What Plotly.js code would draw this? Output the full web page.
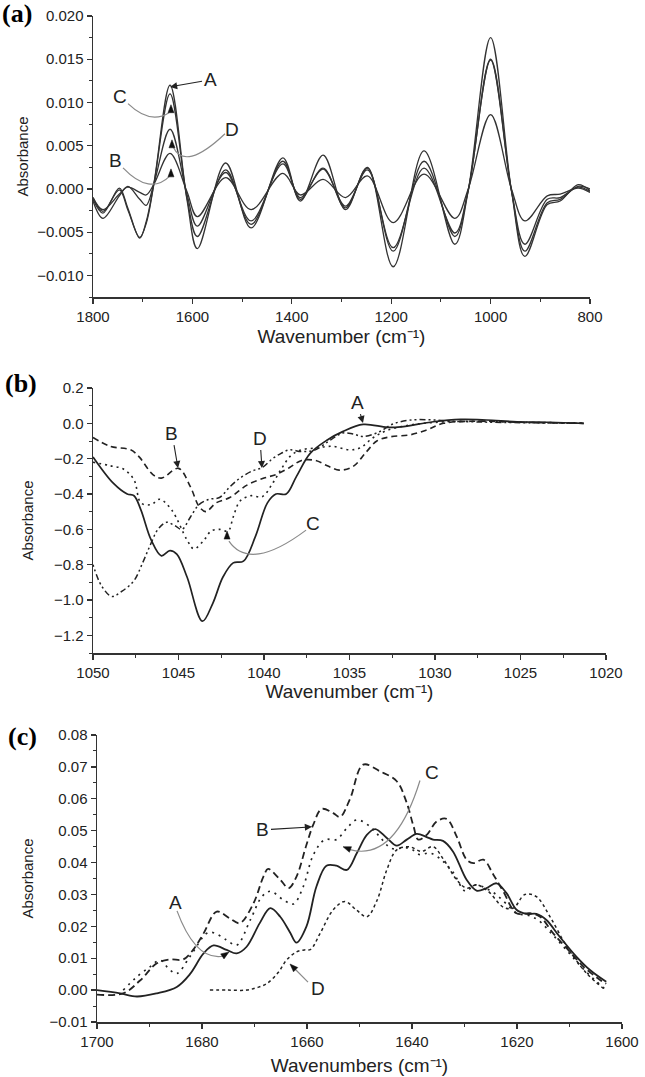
<!DOCTYPE html>
<html><head><meta charset="utf-8">
<script src="https://cdn.plot.ly/plotly-3.0.1.min.js"></script>
<style>html,body{margin:0;padding:0;background:#fff}#chart{width:645px;height:1077px}</style>
</head><body><div id="chart"></div>
<script>
// ---------- Panel (a): second-derivative spectra ----------
const wnA = [1800,1780,1747,1730,1706,1693,1677,1645,1611,1590,1533,1482,1418,1383,1337,1292,1248,1196,1134,1072,1045,1000,958,931,886,860,824,800];
const a_A = [-0.0012,-0.0028,0.0001,-0.0022,-0.0057,-0.0038,0.0008,0.0120,-0.0012,-0.0069,0.0030,-0.0045,0.0036,-0.0014,0.0039,-0.0024,0.0025,-0.0090,0.0044,-0.0064,-0.0002,0.0175,-0.0002,-0.0078,-0.0018,-0.0014,0.0005,-0.0002];
const a_C = [-0.0010,-0.0026,-0.0001,-0.0024,-0.0056,-0.0040,0.0007,0.0110,-0.0010,-0.0055,0.0022,-0.0041,0.0032,-0.0012,0.0024,-0.0022,0.0024,-0.0072,0.0032,-0.0055,-0.0002,0.0150,-0.0002,-0.0072,-0.0016,-0.0012,0.0003,0.0000];
const a_D = [-0.0014,-0.0034,-0.0008,0.0003,-0.0012,-0.0019,0.0007,0.0069,-0.0006,-0.0043,0.0019,-0.0037,0.0029,-0.0010,0.0023,-0.0020,0.0022,-0.0068,0.0024,-0.0051,-0.0001,0.0149,-0.0002,-0.0064,-0.0012,-0.0010,0.0002,-0.0003];
const a_B = [-0.0010,-0.0024,-0.0006,0.0002,-0.0004,-0.0007,0.0006,0.0041,-0.0003,-0.0032,0.0013,-0.0024,0.0018,-0.0007,0.0011,-0.0010,0.0015,-0.0039,0.0017,-0.0034,0.0000,0.0086,0.0000,-0.0037,-0.0008,-0.0006,0.0001,-0.0004];

// ---------- Panel (b): 1050-1020 region ----------
const b_A_x = [1050,1048.8,1048.0,1047.6,1047.2,1046.6,1046.0,1045.5,1045.1,1044.5,1043.6,1043.0,1042.4,1041.8,1041.2,1040.5,1039.8,1039.3,1038.7,1038.1,1037.3,1036.3,1035.4,1034.2,1032.8,1032.0,1030.1,1028.5,1027.0,1025.2,1023.3,1021.3];
const b_A_y = [-0.19,-0.34,-0.40,-0.41,-0.49,-0.66,-0.75,-0.72,-0.74,-0.87,-1.12,-1.02,-0.87,-0.79,-0.78,-0.64,-0.45,-0.40,-0.40,-0.30,-0.17,-0.094,-0.047,-0.006,-0.023,-0.02,0.009,0.022,0.019,0.009,0.006,0.0];
const b_B_x = [1050,1049.0,1047.8,1047.3,1046.5,1046.0,1045.0,1044.3,1043.8,1043.4,1042.8,1042.0,1041.0,1040.0,1039.3,1038.5,1037.8,1037.0,1036.3,1035.6,1034.8,1034.0,1033.4,1032.6,1031.5,1030.5,1029.5,1027.5,1025,1021.3];
const b_B_y = [-0.08,-0.13,-0.15,-0.19,-0.29,-0.31,-0.255,-0.36,-0.47,-0.50,-0.45,-0.42,-0.35,-0.31,-0.29,-0.25,-0.21,-0.21,-0.24,-0.265,-0.245,-0.16,-0.10,-0.076,-0.066,-0.038,0.0,0.012,0.006,0.0];
const b_C_x = [1050,1049.0,1048.2,1047.6,1047.2,1046.6,1046.1,1045.4,1044.5,1044.1,1043.5,1043.1,1042.6,1042.1,1041.8,1041.4,1040.8,1040.1,1039.5,1039.0,1038.4,1037.8,1037.0,1036.0,1035.0,1034.4,1033.6,1032.8,1031.5,1030.0,1028,1025,1021.3];
const b_C_y = [-0.22,-0.24,-0.26,-0.32,-0.45,-0.46,-0.43,-0.49,-0.66,-0.71,-0.66,-0.61,-0.60,-0.61,-0.53,-0.44,-0.41,-0.415,-0.34,-0.26,-0.18,-0.15,-0.14,-0.13,-0.15,-0.14,-0.08,-0.04,-0.01,0.005,0.012,0.006,0.002];
const b_D_x = [1050,1049.5,1048.9,1048.3,1047.6,1047.1,1046.7,1046.2,1045.7,1045.2,1044.8,1044.3,1043.8,1043.2,1042.6,1042.0,1041.4,1040.7,1040.1,1039.5,1039.0,1038.5,1037.8,1037.0,1036.2,1035.4,1034.8,1034.2,1033.3,1032.5,1031.5,1030.3,1029,1026,1021.3];
const b_D_y = [-0.80,-0.92,-0.98,-0.95,-0.89,-0.79,-0.70,-0.60,-0.56,-0.58,-0.60,-0.53,-0.46,-0.43,-0.42,-0.36,-0.31,-0.27,-0.25,-0.20,-0.17,-0.15,-0.16,-0.15,-0.10,-0.055,-0.06,-0.075,-0.05,-0.005,0.018,0.02,0.012,0.005,0.0];

// ---------- Panel (c): amide I region ----------
const c_A_x = [1700,1695.6,1692.4,1688.6,1684.8,1682.3,1679.7,1677.8,1675.3,1673.4,1671.5,1669.0,1667.0,1665.1,1663.2,1662.0,1660.1,1658.2,1656.3,1654.4,1652.4,1650.5,1648.6,1647.0,1644.8,1642.9,1641.0,1639.1,1637.2,1636.0,1634.1,1632.2,1629.6,1627.7,1625.8,1623.9,1622.0,1620.1,1618.2,1616.3,1614.4,1611.9,1608.7,1606.1,1603.0];
const c_A_y = [0.000,-0.001,-0.002,-0.001,0.001,0.005,0.0115,0.014,0.0126,0.0115,0.0136,0.021,0.0257,0.023,0.018,0.0149,0.020,0.0325,0.039,0.039,0.0377,0.043,0.0487,0.0505,0.0477,0.0453,0.0472,0.049,0.048,0.0472,0.0468,0.0435,0.0346,0.0312,0.032,0.0335,0.0304,0.0252,0.0239,0.0239,0.022,0.0168,0.0105,0.0063,0.0026];
const c_B_x = [1700,1695.0,1691.8,1688.6,1686.1,1683.6,1681.7,1679.7,1677.2,1674.7,1672.8,1670.2,1668.3,1667.4,1665.1,1663.5,1662.0,1660.1,1658.8,1657.2,1655.0,1653.7,1651.8,1649.3,1646.1,1642.9,1641.0,1639.7,1638.8,1637.2,1635.3,1633.4,1631.5,1629.6,1628.3,1626.4,1624.5,1622.6,1620.1,1617.5,1615.6,1613.1,1610.5,1607.3,1604.1,1603.0];
const c_B_y = [-0.0014,-0.001,0.003,0.0084,0.0096,0.0096,0.0126,0.0178,0.0246,0.0225,0.021,0.0272,0.0356,0.038,0.0346,0.032,0.0356,0.0456,0.0519,0.0568,0.0555,0.0543,0.060,0.0707,0.0686,0.0655,0.0587,0.0513,0.0472,0.0487,0.0529,0.0537,0.0482,0.0409,0.0398,0.0409,0.0362,0.0309,0.0241,0.0241,0.023,0.0178,0.0131,0.0073,0.0031,0.002];
const c_C_x = [1695,1692.4,1689.9,1688.0,1686.1,1684.8,1682.3,1679.1,1677.8,1675.3,1673.4,1670.8,1668.6,1667.0,1664.5,1662.6,1660.7,1658.8,1656.6,1654.4,1652.4,1650.5,1648.0,1646.1,1644.0,1642.0,1640.4,1638.5,1636.6,1634.5,1632.2,1629.8,1628.0,1626.0,1624.0,1622.0,1620.0,1618.0,1616.0,1613.0,1610.0,1607.0,1603.0];
const c_C_y = [0.000,0.0042,0.0073,0.0094,0.0063,0.0052,0.0105,0.0178,0.018,0.0157,0.0141,0.022,0.0293,0.031,0.0283,0.027,0.0325,0.0424,0.0472,0.0472,0.0508,0.0534,0.0513,0.048,0.0445,0.0445,0.0445,0.0425,0.043,0.041,0.037,0.031,0.033,0.032,0.030,0.027,0.024,0.0235,0.022,0.017,0.0115,0.006,0.000];
const c_D_x = [1678.5,1675,1671.5,1669.5,1667.7,1665.5,1663.9,1662.0,1660.5,1659.3,1657.5,1655.0,1652.8,1650.5,1648.6,1646.7,1644.8,1642.9,1640.4,1638.2,1636.0,1634.0,1631.5,1629.6,1627.7,1625.5,1622.6,1620.7,1618.5,1616.3,1613.7,1610.5,1606.7,1603.5];
const c_D_y = [0.000,0.000,0.000,0.0008,0.002,0.0055,0.0094,0.0120,0.0126,0.0128,0.0178,0.0252,0.0278,0.025,0.023,0.028,0.0377,0.044,0.0449,0.0435,0.045,0.041,0.0346,0.032,0.033,0.031,0.026,0.0257,0.030,0.0293,0.023,0.0136,0.0052,0.0005];

// ---------- Axis titles / text ----------
const xTitleA = 'Wavenumber (cm\u207B\u00B9)';
const xTitleB = 'Wavenumber (cm\u207B\u00B9)';
const xTitleC = 'Wavenumbers (cm\u207B\u00B9)';
const yTitle = 'Absorbance';
const panelLabels = ['(a)','(b)','(c)'];

const FONT = 'Liberation Sans, Arial, Helvetica, sans-serif';
const INK = '#222';
const GRAY = '#8a8a8a';

function tr(x, y, xa, ya, line){
  return {x:x, y:y, xaxis:xa, yaxis:ya, type:'scatter', mode:'lines',
    line:Object.assign({shape:'spline', smoothing:1, color:INK}, line), hoverinfo:'skip'};
}
const la = {width:1.3, color:'#333'};
const data = [
  tr(wnA, a_A, 'x', 'y', la), tr(wnA, a_C, 'x', 'y', la), tr(wnA, a_D, 'x', 'y', la), tr(wnA, a_B, 'x', 'y', la),
  tr(b_A_x, b_A_y, 'x2', 'y2', {width:1.7}),
  tr(b_B_x, b_B_y, 'x2', 'y2', {width:1.6, dash:'6px,4px'}),
  tr(b_C_x, b_C_y, 'x2', 'y2', {width:1.6, dash:'2px,4px'}),
  tr(b_D_x, b_D_y, 'x2', 'y2', {width:1.5, dash:'2px,3px,2px,3px,6px,3px'}),
  tr(c_A_x, c_A_y, 'x3', 'y3', {width:1.8}),
  tr(c_B_x, c_B_y, 'x3', 'y3', {width:1.8, dash:'7px,4px'}),
  tr(c_C_x, c_C_y, 'x3', 'y3', {width:1.7, dash:'2px,5px'}),
  tr(c_D_x, c_D_y, 'x3', 'y3', {width:1.5, dash:'3px,3px'})
];

const W = 645, H = 1077;
const PX = v => v / W, PY = v => 1 - v / H;

function ax(extra){
  return Object.assign({
    showline:true, linecolor:'#333', linewidth:1.5, mirror:false,
    ticks:'outside', ticklen:5, tickwidth:1.3, tickcolor:'#333',
    showgrid:false, zeroline:false, fixedrange:true,
    tickfont:{family:FONT, size:15, color:INK},
  }, extra);
}
function minor(d, t0){ return {ticks:'outside', ticklen:3, tickwidth:1, tickcolor:'#333', dtick:d, tick0:t0, showgrid:false}; }

const layout = {
  width:W, height:H, margin:{l:0, r:0, t:0, b:0},
  paper_bgcolor:'#fff', plot_bgcolor:'rgba(0,0,0,0)', showlegend:false,
  font:{family:FONT, color:INK, size:15},
  xaxis: ax({domain:[PX(93), PX(590)], anchor:'y', range:[1800, 800], dtick:200, tick0:800, minor:minor(100, 800),
    title:{text:xTitleA, font:{size:19, family:FONT}, standoff:6}}),
  yaxis: ax({domain:[PY(297), PY(16)], anchor:'x', range:[-0.0125, 0.020], dtick:0.005, tick0:0, tickformat:'.3f', minor:minor(0.0025, 0),
    title:{text:yTitle, font:{size:15, family:FONT}, standoff:5}}),
  xaxis2: ax({domain:[PX(93), PX(606)], anchor:'y2', range:[1050, 1020], dtick:5, tick0:1020, minor:minor(2.5, 1020),
    title:{text:xTitleB, font:{size:19, family:FONT}, standoff:5}}),
  yaxis2: ax({domain:[PY(653), PY(388)], anchor:'x2', range:[-1.3, 0.2], dtick:0.2, tick0:0, tickformat:'.1f', minor:minor(0.1, 0),
    title:{text:yTitle, font:{size:15, family:FONT}, standoff:16}}),
  xaxis3: ax({domain:[PX(97), PX(622)], anchor:'y3', range:[1700, 1600], dtick:20, tick0:1600, minor:minor(10, 1600),
    title:{text:xTitleC, font:{size:19, family:FONT}, standoff:10}}),
  yaxis3: ax({domain:[PY(1022), PY(735)], anchor:'x3', range:[-0.01, 0.08], dtick:0.01, tick0:0, tickformat:'.2f', minor:minor(0.005, 0),
    title:{text:yTitle, font:{size:15, family:FONT}, standoff:12}}),
  annotations:[], shapes:[]
};

const L = {family:FONT, size:19, color:INK};
const P = {family:'Liberation Serif, Times New Roman, serif', size:26, color:'#000', weight:'bold'};
const A = layout.annotations, S = layout.shapes;

// panel labels
A.push({xref:'paper', yref:'paper', x:PX(0), y:PY(14), xanchor:'left', yanchor:'middle', text:panelLabels[0], showarrow:false, font:P});
A.push({xref:'paper', yref:'paper', x:PX(3), y:PY(383), xanchor:'left', yanchor:'middle', text:panelLabels[1], showarrow:false, font:P});
A.push({xref:'paper', yref:'paper', x:PX(6), y:PY(736), xanchor:'left', yanchor:'middle', text:panelLabels[2], showarrow:false, font:P});

function label(xr, yr, x, y, t){ A.push({xref:xr, yref:yr, x:x, y:y, text:t, showarrow:false, font:L}); }
function arrowText(xr, yr, x, y, t, axp, ayp){ A.push({xref:xr, yref:yr, x:x, y:y, text:t, showarrow:true, ax:axp, ay:ayp, arrowhead:2, arrowsize:1.3, arrowwidth:1.1, arrowcolor:INK, font:L, standoff:0}); }
// small filled triangular arrowhead; tip at (x,y), path in pixels relative to the tip (y up)
function head(xr, yr, x, y, path){
  S.push({type:'path', xref:xr, yref:yr, xsizemode:'pixel', ysizemode:'pixel', xanchor:x, yanchor:y,
    path:path, fillcolor:'#111', line:{color:'#111', width:0.5}});
}
const UP = 'M 0 0 L -3 -8 L 3 -8 Z';
function curve(xr, yr, p){ S.push({type:'path', xref:xr, yref:yr, path:p, line:{color:GRAY, width:1.2}}); }

// panel (a)
arrowText('x','y', 1645, 0.0118, 'A', 40, -7);
label('x','y', 1745.7, 0.01067, 'C');
curve('x','y', 'M 1729.6 0.00986 Q 1685.3 0.00742 1647.1 0.00882');
head('x','y', 1643.1, 0.00974, UP);
label('x','y', 1520.3, 0.00684, 'D');
curve('x','y', 'M 1534.4 0.00638 Q 1614.9 0.00197 1639.0 0.00487');
head('x','y', 1641.1, 0.00568, UP);
label('x','y', 1755.7, 0.00325, 'B');
curve('x','y', 'M 1739.6 0.00244 Q 1685.3 -0.00081 1645.1 0.00151');
head('x','y', 1643.1, 0.00232, UP);

// panel (b)
arrowText('x2','y2', 1034.21, 0.0017, 'A', -6, -21);
arrowText('x2','y2', 1045.03, -0.2533, 'B', -6, -35);
arrowText('x2','y2', 1040.12, -0.2533, 'D', -2, -30);
label('x2','y2', 1037.13, -0.5649, 'C');
curve('x2','y2', 'M 1037.54 -0.6045 Q 1040.82 -0.8425 1042.05 -0.6669');
head('x2','y2', 1042.16, -0.610, UP);

// panel (c)
label('x3','y3', 1685.14, 0.02736, 'A');
curve('x3','y3', 'M 1684.76 0.02484 Q 1681.14 0.0088 1675.81 0.01069');
head('x3','y3', 1674.86, 0.01195, 'M 0 0 L -8.3 -1.9 L -5.0 -6.9 Z');
arrowText('x3','y3', 1659.05, 0.0512, 'B', -49, 3);
label('x3','y3', 1636.19, 0.06824, 'C');
curve('x3','y3', 'M 1638.48 0.06572 Q 1643.24 0.04025 1651.81 0.04403');
head('x3','y3', 1653.14, 0.04497, 'M 0 0 L 6.4 -5.6 L 8.5 0 Z');
label('x3','y3', 1657.9, 0.00063, 'D');
curve('x3','y3', 'M 1659.81 0.00252 L 1662.48 0.00692');
head('x3','y3', 1663.24, 0.00818, 'M 0 0 L 3.5 -7.8 L 7.8 -3.5 Z');

Plotly.newPlot('chart', data, layout, {staticPlot:true, displayModeBar:false});
</script></body></html>
